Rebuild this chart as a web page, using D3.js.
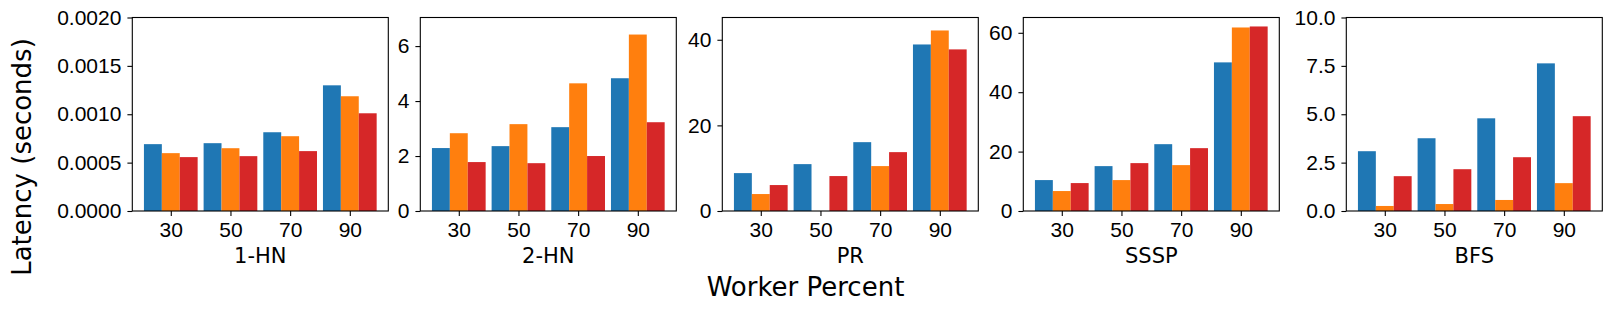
<!doctype html>
<html lang="en">
<head>
<meta charset="utf-8">
<style>
  * { margin: 0; padding: 0; border: 0; }
  body { background: #fff; }
  svg { display: block; font-family: 'DejaVu Sans', sans-serif; }
  .axis path, .axis line { stroke: #000; stroke-width: 1.1px; }
  .axis text { font-size: 21px; fill: #000; }
</style>
</head>
<body>
<div id="chart"></div>
<script src="https://cdn.jsdelivr.net/npm/d3@7"></script>
<script>
  // worker percentages on the x axis
  var percents = ["30", "50", "70", "90"];
  var panels = ["1-HN", "2-HN", "PR", "SSSP", "BFS"];
  var colors = ["#1f77b4", "#ff7f0e", "#d62728"];

  // three series per panel, one value per worker percent
  var hn1 = [
    [0.000691, 0.000701, 0.000814, 0.001299],
    [0.000598, 0.000649, 0.000773, 0.001186],
    [0.000557, 0.000567, 0.000619, 0.001010]
  ];
  var hn2 = [
    [2.29, 2.36, 3.05, 4.83],
    [2.83, 3.16, 4.645, 6.42],
    [1.78, 1.74, 2.00, 3.23]
  ];
  var pr = [
    [8.85, 10.95, 16.08, 38.9],
    [3.96, 0, 10.49, 42.17],
    [6.06, 8.16, 13.75, 37.75]
  ];
  var sssp = [
    [10.41, 15.11, 22.5, 50.04],
    [6.72, 10.41, 15.45, 61.79],
    [9.40, 16.12, 21.16, 62.13]
  ];
  var bfs = [
    [3.09, 3.76, 4.79, 7.63],
    [0.26, 0.36, 0.57, 1.44],
    [1.80, 2.16, 2.78, 4.90]
  ];

  var yMax = [0.002, 7.04, 45.2, 65.15, 10];
  var yTicks = [
    [0, 0.0005, 0.001, 0.0015, 0.002],
    [0, 2, 4, 6],
    [0, 20, 40],
    [0, 20, 40, 60],
    [0, 2.5, 5, 7.5, 10]
  ];
  var yFormats = [".4f", "d", "d", "d", ".1f"];
  var allData = [hn1, hn2, pr, sssp, bfs];

  var W = 1611, H = 311;
  var lefts = [132.3, 420.3, 722.3, 1023.3, 1346.3];
  var pw = 256, topY = 17.5, bottomY = 211;
  var barW = 0.3;

  var svg = d3.select("#chart").append("svg").attr("width", W).attr("height", H);

  panels.forEach(function(name, p) {
    var data = allData[p];
    var g = svg.append("g").attr("transform", "translate(" + lefts[p] + ",0)");
    var x = d3.scaleLinear().domain([-0.645, 3.645]).range([0, pw]);
    var y = d3.scaleLinear().domain([0, yMax[p]]).range([bottomY, topY]);

    data.forEach(function(series, s) {
      g.selectAll(null).data(series).enter().append("rect")
        .attr("x", (d, i) => x(i + (s - 1) * barW - barW / 2))
        .attr("width", x(barW) - x(0))
        .attr("y", d => y(d))
        .attr("height", d => y(0) - y(d))
        .attr("fill", colors[s]);
    });

    g.append("g").attr("class", "axis")
      .attr("transform", "translate(0," + bottomY + ")")
      .call(d3.axisBottom(x).tickValues([0, 1, 2, 3]).tickFormat((d, i) => percents[i])
        .tickSizeInner(4.9).tickSizeOuter(0).tickPadding(6.5))
      .call(a => a.select(".domain").remove());

    g.append("g").attr("class", "axis")
      .call(d3.axisLeft(y).tickValues(yTicks[p]).tickFormat(d3.format(yFormats[p]))
        .tickSizeInner(4.9).tickSizeOuter(0).tickPadding(6))
      .call(a => a.select(".domain").remove());

    // frame
    g.append("rect").attr("x", 0).attr("y", topY).attr("width", pw).attr("height", bottomY - topY)
      .attr("fill", "none").attr("stroke", "#000").attr("stroke-width", 1.1);

    g.append("text").attr("x", pw / 2).attr("y", 262.5)
      .attr("text-anchor", "middle").style("font-size", "21px").text(name);
  });

  svg.append("text").attr("x", 805.5).attr("y", 296)
    .attr("text-anchor", "middle").style("font-size", "26px").text("Worker Percent");

  svg.append("text").attr("transform", "translate(30.5,157) rotate(-90)")
    .attr("text-anchor", "middle").style("font-size", "26px").text("Latency (seconds)");
</script>
</body>
</html>
